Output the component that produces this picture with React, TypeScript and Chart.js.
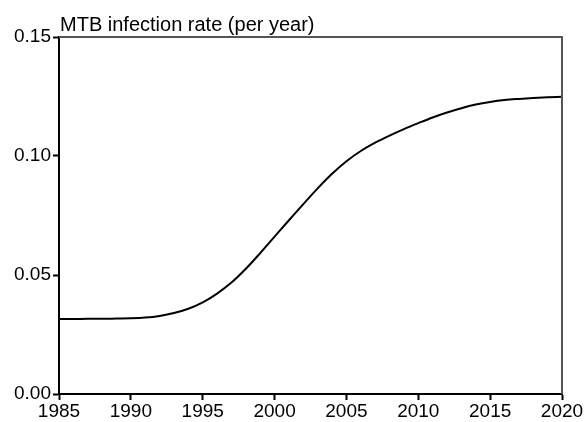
import React, { useEffect, useRef } from "react";
import { Chart, registerables } from "chart.js";

Chart.register(...registerables);

const years = [
  1985, 1986, 1987, 1988, 1989, 1990, 1991, 1992, 1993, 1994, 1995, 1996,
  1997, 1998, 1999, 2000, 2001, 2002, 2003, 2004, 2005, 2006, 2007, 2008,
  2009, 2010, 2011, 2012, 2013, 2014, 2015, 2016, 2017, 2018, 2019, 2020,
];
const infectionRate = [
  0.0315, 0.0315, 0.0316, 0.0316, 0.0317, 0.0318, 0.0321, 0.0328, 0.034,
  0.0358, 0.0385, 0.0422, 0.0468, 0.0526, 0.0592, 0.0661, 0.073, 0.0798,
  0.0864, 0.0925, 0.0978, 0.1021, 0.1056, 0.1086, 0.1113, 0.1138, 0.1162,
  0.1183, 0.1201, 0.1216, 0.1227, 0.1235, 0.124, 0.1244, 0.1247, 0.1249,
];
const xTicks = [1985, 1990, 1995, 2000, 2005, 2010, 2015, 2020];
const xTickLabels = ["1985", "1990", "1995", "2000", "2005", "2010", "2015", "2020"];
const yTicks = [0, 0.05, 0.1, 0.15];
const yTickLabels = ["0.00", "0.05", "0.10", "0.15"];
const chartTitle = "MTB infection rate (per year)";

const FONT = '"Liberation Sans", Arial, Helvetica, sans-serif';

export default function App() {
  const ref = useRef<HTMLCanvasElement | null>(null);

  useEffect(() => {
    if (!ref.current) return;
    const framePlugin = {
      id: "frameAndTitle",
      afterDraw(chart: any) {
        const { ctx, chartArea } = chart;
        const { left, right, top, bottom } = chartArea;
        ctx.save();
        ctx.strokeStyle = "#555555";
        ctx.lineWidth = 2;
        ctx.beginPath();
        ctx.moveTo(left, top);
        ctx.lineTo(right, top);
        ctx.lineTo(right, bottom);
        ctx.stroke();
        ctx.fillStyle = "#000";
        ctx.font = `20px ${FONT}`;
        ctx.textAlign = "left";
        ctx.textBaseline = "alphabetic";
        ctx.fillText(chartTitle, left + 1, top - 6);
        ctx.restore();
      },
    };

    const chart = new Chart(ref.current, {
      type: "line",
      data: {
        datasets: [
          {
            data: years.map((y, i) => ({ x: y, y: infectionRate[i] })),
            borderColor: "#000",
            borderWidth: 2,
            pointRadius: 0,
            fill: false,
            cubicInterpolationMode: "monotone",
          },
        ],
      },
      options: {
        animation: false,
        responsive: false,
        events: [],
        layout: { padding: { left: 0, right: 25, top: 37, bottom: 0 } },
        plugins: {
          legend: { display: false },
          tooltip: { enabled: false },
          title: { display: false },
        },
        scales: {
          x: {
            type: "linear",
            min: 1985,
            max: 2020,
            afterBuildTicks: (scale: any) => {
              scale.ticks = xTicks.map((v) => ({ value: v }));
            },
            afterFit: (scale: any) => {
              scale.height = 28;
            },
            ticks: {
              autoSkip: false,
              maxRotation: 0,
              padding: 0,
              color: "#000",
              font: { family: FONT, size: 19 },
              callback: (_v: any, i: number) => xTickLabels[i],
            },
            grid: {
              drawOnChartArea: false,
              drawTicks: true,
              tickLength: 6,
              tickColor: "#000",
              tickWidth: 2,
            },
            border: { display: true, color: "#000", width: 2 },
          },
          y: {
            type: "linear",
            min: 0,
            max: 0.15,
            afterBuildTicks: (scale: any) => {
              scale.ticks = yTicks.map((v) => ({ value: v }));
            },
            afterFit: (scale: any) => {
              scale.width = 59;
            },
            ticks: {
              autoSkip: false,
              padding: 2,
              color: "#000",
              font: { family: FONT, size: 19 },
              callback: (_v: any, i: number) => yTickLabels[i],
            },
            grid: {
              drawOnChartArea: false,
              drawTicks: true,
              tickLength: 6,
              tickColor: "#000",
              tickWidth: 2,
            },
            border: { display: true, color: "#000", width: 2 },
          },
        },
      },
      plugins: [framePlugin],
    } as any);
    return () => chart.destroy();
  }, []);

  return (
    <div style={{ position: "fixed", left: 0, top: 0, width: 587, height: 422, background: "#fff" }}>
      <canvas ref={ref} width={587} height={422} />
    </div>
  );
}
